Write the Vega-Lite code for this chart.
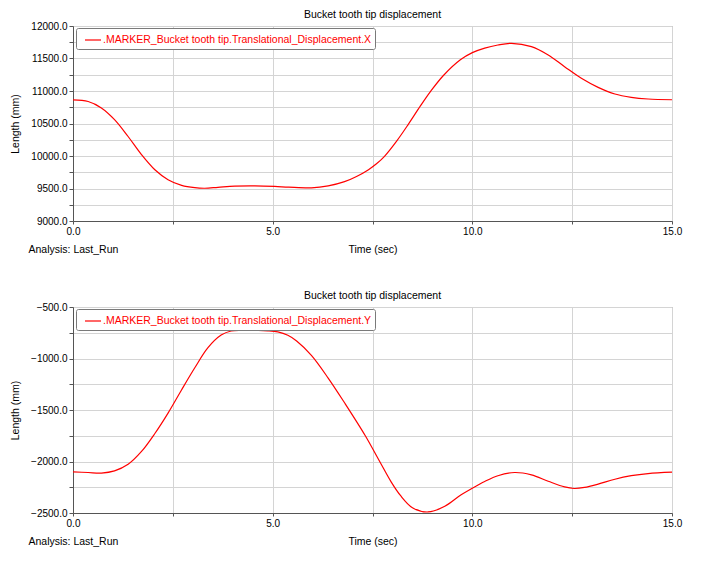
{
  "$schema": "https://vega.github.io/schema/vega-lite/v6.json",
  "background": "white",
  "padding": {"left": 10, "top": 9, "right": 5, "bottom": 5},
  "config": {
    "font": "Liberation Sans",
    "view": {"stroke": "#9a9a9a", "strokeWidth": 1},
    "axis": {
      "labelFont": "Liberation Sans", "labelFontSize": 10, "labelColor": "#000000",
      "titleFont": "Liberation Sans", "titleFontSize": 10.5, "titleFontWeight": "normal", "titleColor": "#000000",
      "domainColor": "#555555", "tickColor": "#555555", "gridColor": "#d4d4d4", "grid": true,
      "labelFlush": false, "labelOverlap": false
    },
    "title": {"font": "Liberation Sans", "fontSize": 10.5, "fontWeight": "normal", "color": "#000000", "anchor": "middle"},
    "legend": {
      "title": null, "orient": "none", "legendX": 3, "legendY": 2,
      "symbolType": "stroke", "symbolSize": 256, "symbolStrokeWidth": 1.2,
      "labelFont": "Liberation Sans", "labelFontSize": 10.5, "labelColor": "#ff0000", "labelLimit": 600,
      "strokeColor": "#7a7a7a", "fillColor": "white", "padding": 3, "cornerRadius": 2,
      "symbolOffset": 5, "labelOffset": 1
    },
    "concat": {"spacing": 34}
  },
  "resolve": {"scale": {"color": "independent"}, "legend": {"color": "independent"}},
  "datasets": {
    "dx": [
      {"t": 0, "v": 10862, "s": ".MARKER_Bucket tooth tip.Translational_Displacement.X"},
      {"t": 0.38, "v": 10838, "s": ".MARKER_Bucket tooth tip.Translational_Displacement.X"},
      {"t": 0.71, "v": 10740, "s": ".MARKER_Bucket tooth tip.Translational_Displacement.X"},
      {"t": 1.04, "v": 10560, "s": ".MARKER_Bucket tooth tip.Translational_Displacement.X"},
      {"t": 1.38, "v": 10300, "s": ".MARKER_Bucket tooth tip.Translational_Displacement.X"},
      {"t": 1.71, "v": 10025, "s": ".MARKER_Bucket tooth tip.Translational_Displacement.X"},
      {"t": 2.05, "v": 9788, "s": ".MARKER_Bucket tooth tip.Translational_Displacement.X"},
      {"t": 2.38, "v": 9635, "s": ".MARKER_Bucket tooth tip.Translational_Displacement.X"},
      {"t": 2.72, "v": 9548, "s": ".MARKER_Bucket tooth tip.Translational_Displacement.X"},
      {"t": 3.05, "v": 9512, "s": ".MARKER_Bucket tooth tip.Translational_Displacement.X"},
      {"t": 3.3, "v": 9504, "s": ".MARKER_Bucket tooth tip.Translational_Displacement.X"},
      {"t": 3.63, "v": 9518, "s": ".MARKER_Bucket tooth tip.Translational_Displacement.X"},
      {"t": 4.05, "v": 9536, "s": ".MARKER_Bucket tooth tip.Translational_Displacement.X"},
      {"t": 4.55, "v": 9540, "s": ".MARKER_Bucket tooth tip.Translational_Displacement.X"},
      {"t": 5.05, "v": 9532, "s": ".MARKER_Bucket tooth tip.Translational_Displacement.X"},
      {"t": 5.4, "v": 9521, "s": ".MARKER_Bucket tooth tip.Translational_Displacement.X"},
      {"t": 5.97, "v": 9510, "s": ".MARKER_Bucket tooth tip.Translational_Displacement.X"},
      {"t": 6.39, "v": 9540, "s": ".MARKER_Bucket tooth tip.Translational_Displacement.X"},
      {"t": 6.8, "v": 9605, "s": ".MARKER_Bucket tooth tip.Translational_Displacement.X"},
      {"t": 7.1, "v": 9685, "s": ".MARKER_Bucket tooth tip.Translational_Displacement.X"},
      {"t": 7.4, "v": 9790, "s": ".MARKER_Bucket tooth tip.Translational_Displacement.X"},
      {"t": 7.6, "v": 9880, "s": ".MARKER_Bucket tooth tip.Translational_Displacement.X"},
      {"t": 7.8, "v": 9995, "s": ".MARKER_Bucket tooth tip.Translational_Displacement.X"},
      {"t": 8.1, "v": 10225, "s": ".MARKER_Bucket tooth tip.Translational_Displacement.X"},
      {"t": 8.4, "v": 10490, "s": ".MARKER_Bucket tooth tip.Translational_Displacement.X"},
      {"t": 8.7, "v": 10770, "s": ".MARKER_Bucket tooth tip.Translational_Displacement.X"},
      {"t": 8.95, "v": 10990, "s": ".MARKER_Bucket tooth tip.Translational_Displacement.X"},
      {"t": 9.27, "v": 11235, "s": ".MARKER_Bucket tooth tip.Translational_Displacement.X"},
      {"t": 9.7, "v": 11480, "s": ".MARKER_Bucket tooth tip.Translational_Displacement.X"},
      {"t": 10.0, "v": 11590, "s": ".MARKER_Bucket tooth tip.Translational_Displacement.X"},
      {"t": 10.31, "v": 11660, "s": ".MARKER_Bucket tooth tip.Translational_Displacement.X"},
      {"t": 10.64, "v": 11708, "s": ".MARKER_Bucket tooth tip.Translational_Displacement.X"},
      {"t": 10.98, "v": 11734, "s": ".MARKER_Bucket tooth tip.Translational_Displacement.X"},
      {"t": 11.48, "v": 11682, "s": ".MARKER_Bucket tooth tip.Translational_Displacement.X"},
      {"t": 11.9, "v": 11554, "s": ".MARKER_Bucket tooth tip.Translational_Displacement.X"},
      {"t": 12.31, "v": 11374, "s": ".MARKER_Bucket tooth tip.Translational_Displacement.X"},
      {"t": 12.73, "v": 11195, "s": ".MARKER_Bucket tooth tip.Translational_Displacement.X"},
      {"t": 13.15, "v": 11056, "s": ".MARKER_Bucket tooth tip.Translational_Displacement.X"},
      {"t": 13.57, "v": 10954, "s": ".MARKER_Bucket tooth tip.Translational_Displacement.X"},
      {"t": 13.98, "v": 10903, "s": ".MARKER_Bucket tooth tip.Translational_Displacement.X"},
      {"t": 14.4, "v": 10877, "s": ".MARKER_Bucket tooth tip.Translational_Displacement.X"},
      {"t": 15.0, "v": 10865, "s": ".MARKER_Bucket tooth tip.Translational_Displacement.X"}
    ],
    "dy": [
      {"t": 0, "v": -2101, "s": ".MARKER_Bucket tooth tip.Translational_Displacement.Y"},
      {"t": 0.38, "v": -2107, "s": ".MARKER_Bucket tooth tip.Translational_Displacement.Y"},
      {"t": 0.71, "v": -2112, "s": ".MARKER_Bucket tooth tip.Translational_Displacement.Y"},
      {"t": 1.04, "v": -2091, "s": ".MARKER_Bucket tooth tip.Translational_Displacement.Y"},
      {"t": 1.38, "v": -2027, "s": ".MARKER_Bucket tooth tip.Translational_Displacement.Y"},
      {"t": 1.71, "v": -1905, "s": ".MARKER_Bucket tooth tip.Translational_Displacement.Y"},
      {"t": 2.05, "v": -1728, "s": ".MARKER_Bucket tooth tip.Translational_Displacement.Y"},
      {"t": 2.38, "v": -1530, "s": ".MARKER_Bucket tooth tip.Translational_Displacement.Y"},
      {"t": 2.71, "v": -1310, "s": ".MARKER_Bucket tooth tip.Translational_Displacement.Y"},
      {"t": 3.05, "v": -1090, "s": ".MARKER_Bucket tooth tip.Translational_Displacement.Y"},
      {"t": 3.38, "v": -895, "s": ".MARKER_Bucket tooth tip.Translational_Displacement.Y"},
      {"t": 3.71, "v": -773, "s": ".MARKER_Bucket tooth tip.Translational_Displacement.Y"},
      {"t": 3.96, "v": -733, "s": ".MARKER_Bucket tooth tip.Translational_Displacement.Y"},
      {"t": 4.3, "v": -728, "s": ".MARKER_Bucket tooth tip.Translational_Displacement.Y"},
      {"t": 4.6, "v": -728, "s": ".MARKER_Bucket tooth tip.Translational_Displacement.Y"},
      {"t": 4.88, "v": -731, "s": ".MARKER_Bucket tooth tip.Translational_Displacement.Y"},
      {"t": 5.13, "v": -742, "s": ".MARKER_Bucket tooth tip.Translational_Displacement.Y"},
      {"t": 5.38, "v": -775, "s": ".MARKER_Bucket tooth tip.Translational_Displacement.Y"},
      {"t": 5.6, "v": -830, "s": ".MARKER_Bucket tooth tip.Translational_Displacement.Y"},
      {"t": 5.97, "v": -970, "s": ".MARKER_Bucket tooth tip.Translational_Displacement.Y"},
      {"t": 6.39, "v": -1190, "s": ".MARKER_Bucket tooth tip.Translational_Displacement.Y"},
      {"t": 6.8, "v": -1430, "s": ".MARKER_Bucket tooth tip.Translational_Displacement.Y"},
      {"t": 7.32, "v": -1750, "s": ".MARKER_Bucket tooth tip.Translational_Displacement.Y"},
      {"t": 7.68, "v": -2000, "s": ".MARKER_Bucket tooth tip.Translational_Displacement.Y"},
      {"t": 7.97, "v": -2200, "s": ".MARKER_Bucket tooth tip.Translational_Displacement.Y"},
      {"t": 8.2, "v": -2330, "s": ".MARKER_Bucket tooth tip.Translational_Displacement.Y"},
      {"t": 8.5, "v": -2448, "s": ".MARKER_Bucket tooth tip.Translational_Displacement.Y"},
      {"t": 8.89, "v": -2490, "s": ".MARKER_Bucket tooth tip.Translational_Displacement.Y"},
      {"t": 9.31, "v": -2435, "s": ".MARKER_Bucket tooth tip.Translational_Displacement.Y"},
      {"t": 9.72, "v": -2323, "s": ".MARKER_Bucket tooth tip.Translational_Displacement.Y"},
      {"t": 10.0, "v": -2259, "s": ".MARKER_Bucket tooth tip.Translational_Displacement.Y"},
      {"t": 10.31, "v": -2194, "s": ".MARKER_Bucket tooth tip.Translational_Displacement.Y"},
      {"t": 10.64, "v": -2138, "s": ".MARKER_Bucket tooth tip.Translational_Displacement.Y"},
      {"t": 11.06, "v": -2107, "s": ".MARKER_Bucket tooth tip.Translational_Displacement.Y"},
      {"t": 11.48, "v": -2130, "s": ".MARKER_Bucket tooth tip.Translational_Displacement.Y"},
      {"t": 11.9, "v": -2192, "s": ".MARKER_Bucket tooth tip.Translational_Displacement.Y"},
      {"t": 12.31, "v": -2247, "s": ".MARKER_Bucket tooth tip.Translational_Displacement.Y"},
      {"t": 12.55, "v": -2262, "s": ".MARKER_Bucket tooth tip.Translational_Displacement.Y"},
      {"t": 12.81, "v": -2252, "s": ".MARKER_Bucket tooth tip.Translational_Displacement.Y"},
      {"t": 13.15, "v": -2220, "s": ".MARKER_Bucket tooth tip.Translational_Displacement.Y"},
      {"t": 13.57, "v": -2172, "s": ".MARKER_Bucket tooth tip.Translational_Displacement.Y"},
      {"t": 13.98, "v": -2138, "s": ".MARKER_Bucket tooth tip.Translational_Displacement.Y"},
      {"t": 14.4, "v": -2117, "s": ".MARKER_Bucket tooth tip.Translational_Displacement.Y"},
      {"t": 15.0, "v": -2104, "s": ".MARKER_Bucket tooth tip.Translational_Displacement.Y"}
    ]
  },
  "vconcat": [
    {
      "width": 599, "height": 195,
      "title": {"text": "Bucket tooth tip displacement", "offset": 1},
      "data": {"name": "dx"},
      "layer": [
        {
          "mark": {"type": "line", "color": "#ff0000", "strokeWidth": 1.2, "interpolate": "catmull-rom"},
          "encoding": {
            "x": {"field": "t", "type": "quantitative", "scale": {"domain": [0, 15], "nice": false},
              "axis": {"title": "Time (sec)", "values": [0, 2.5, 5, 7.5, 10, 12.5, 15],
                "labelExpr": "datum.value % 5 == 0 ? format(datum.value, '.1f') : ''",
                "tickSize": 3, "labelPadding": 2, "titleY": 28.5, "titleBaseline": "middle"}},
            "y": {"field": "v", "type": "quantitative", "scale": {"domain": [9000, 12000], "nice": false, "zero": false},
              "axis": {"title": "Length (mm)", "values": [9000, 9250, 9500, 9750, 10000, 10250, 10500, 10750, 11000, 11250, 11500, 11750, 12000],
                "labelExpr": "datum.value % 500 == 0 ? format(datum.value, '.1f') : ''",
                "tickSize": 4, "labelPadding": 2, "titleX": -57.5, "titleY": 97.5, "titleAngle": -90, "titleBaseline": "middle", "titleAlign": "center"}},
            "color": {"field": "s", "type": "nominal", "scale": {"range": ["#ff0000"]}}
          }
        },
        {
          "mark": {"type": "point", "opacity": 0},
          "encoding": {
            "x": {"field": "t", "type": "quantitative",
              "axis": {"orient": "bottom", "title": "Analysis:  Last_Run", "labels": false, "ticks": false, "domain": false, "grid": false,
                "titleAnchor": "start", "titleAlign": "left", "titleX": -45, "titleY": 28.5, "titleBaseline": "middle"}}
          }
        }
      ],
      "resolve": {"axis": {"x": "independent"}}
    },
    {
      "width": 599, "height": 206,
      "title": {"text": "Bucket tooth tip displacement", "offset": 1},
      "data": {"name": "dy"},
      "layer": [
        {
          "mark": {"type": "line", "color": "#ff0000", "strokeWidth": 1.2, "interpolate": "catmull-rom"},
          "encoding": {
            "x": {"field": "t", "type": "quantitative", "scale": {"domain": [0, 15], "nice": false},
              "axis": {"title": "Time (sec)", "values": [0, 2.5, 5, 7.5, 10, 12.5, 15],
                "labelExpr": "datum.value % 5 == 0 ? format(datum.value, '.1f') : ''",
                "tickSize": 3, "labelPadding": 2, "titleY": 28.5, "titleBaseline": "middle"}},
            "y": {"field": "v", "type": "quantitative", "scale": {"domain": [-2500, -500], "nice": false, "zero": false},
              "axis": {"title": "Length (mm)", "values": [-2500, -2250, -2000, -1750, -1500, -1250, -1000, -750, -500],
                "labelExpr": "datum.value % 500 == 0 ? format(datum.value, '.1f') : ''",
                "tickSize": 4, "labelPadding": 2, "titleX": -57.5, "titleY": 103, "titleAngle": -90, "titleBaseline": "middle", "titleAlign": "center"}},
            "color": {"field": "s", "type": "nominal", "scale": {"range": ["#ff0000"]}}
          }
        },
        {
          "mark": {"type": "point", "opacity": 0},
          "encoding": {
            "x": {"field": "t", "type": "quantitative",
              "axis": {"orient": "bottom", "title": "Analysis:  Last_Run", "labels": false, "ticks": false, "domain": false, "grid": false,
                "titleAnchor": "start", "titleAlign": "left", "titleX": -45, "titleY": 28.5, "titleBaseline": "middle"}}
          }
        }
      ],
      "resolve": {"axis": {"x": "independent"}}
    }
  ]
}
